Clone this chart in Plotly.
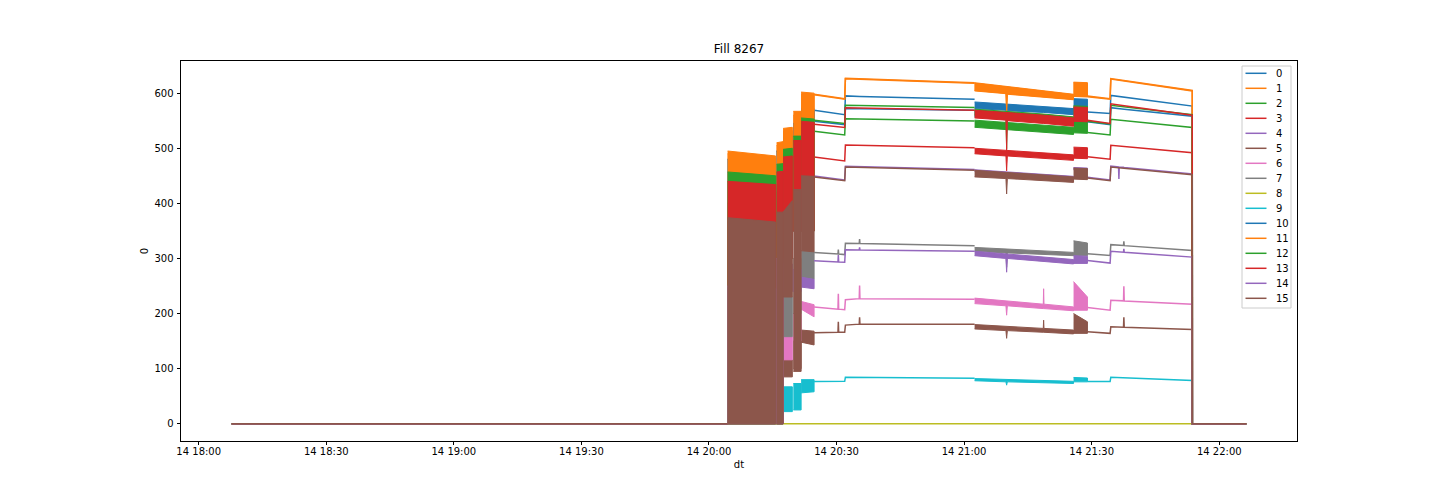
import plotly.graph_objects as go

DAY = "2022-10-14 "
SERIES = [str(i) for i in range(16)]
COLORS = ["#1f77b4", "#ff7f0e", "#2ca02c", "#d62728", "#9467bd", "#8c564b",
          "#e377c2", "#7f7f7f", "#bcbd22", "#17becf",
          "#1f77b4", "#ff7f0e", "#2ca02c", "#d62728", "#9467bd", "#8c564b"]

# ---- steady (thin) parts of every series -------------------------------
T_LINE = ["18:07:46", "20:04:23", "20:10:00", "20:24:43", "20:30:20", "20:30:25", "20:30:30",
          "20:31:55", "20:32:05", "20:35:20", "20:35:25", "20:35:30", "21:02:28", "21:15:00",
          "21:29:00", "21:34:20", "21:34:30", "21:36:19", "21:36:24", "21:36:29", "21:37:29",
          "21:37:34", "21:37:39", "21:53:39", "21:53:40", "22:06:21"]

Y0 = [0, 0, None, 569, 563, 563, 563, 561, 595, 594, 594, 594, 589, None,
      566, 563, 595.8, 594, 593.9, 593.8, 592.8, 592.7, 592.6, 576.5, 0, 0]
Y1 = [0, 0, None, 597, 591, 591, 591, 589, 626, 625, 625, 625, 618, None,
      593.6, 589, 625.6, 623.5, 623.4, 623.3, 622.2, 622.1, 622, 604, 0, 0]
Y2 = [0, 0, None, 531, 525.5, 525.5, 525.5, 524, 553.6, 553, 553, 553, 549.5, None,
      528.5, 524, 552.5, 551, 550.9, 550.8, 550.2, 550.1, 550, 537.6, 0, 0]
Y3 = [0, 0, None, 484, 478.5, 478.5, 478.5, 477, 506, 505.5, 505.5, 505.5, 501, None,
      484.4, 480, 505.5, 504.2, 504.1, 504, 503.4, 503.3, 503.2, 492, 0, 0]
Y4 = [0, 0, None, 449.5, 444, 444, 444, 442.5, 467.5, 467, 467, 467, 461.5, None,
      447.5, 442.5, 467.5, 466.1, 444, 465.9, 465.3, 465.2, 465.1, 453.5, 0, 0]
Y5 = [0, 0, None, 165, 166, 185, 166, 166, 179, 180.7, 193, 180.7, 180.7, None,
      166.8, 164, 176, 175.6, 175.5, 175.5, 175.2, 193, 175.1, 171, 0, 0]
Y6 = [0, 0, None, 212, 208, 236, 208, 207, 225, 227, 251, 227, 226, None,
      211, 206, 224, 223.5, 223.4, 223.3, 223, 249.4, 222.9, 217, 0, 0]
Y7 = [0, 0, None, 311, 308, 316, 308, 307, 327.7, 327, 335, 327, 323, None,
      308.5, 305.5, 325, 324.2, 324, 323.9, 323.4, 331, 323.2, 314.5, 0, 0]
Y8 = [0, 0, 0, 0, 0, 0, 0, 0, 0, 0, 0, 0, 0, 0,
      0, 0, 0, 0, 0, 0, 0, 0, 0, 0, 0, 0]
Y9 = [0, 0, None, 76.5, 77, 77, 77, 77, 84.4, 84.2, 84.2, 84.2, 82.6, None,
      76.5, 76.5, 84.4, 83.8, 83.8, 83.8, 83.4, 83.4, 83.4, 78.3, 0, 0]
Y10 = [0, 0, None, 549, 545, 545, 545, 543, 572, 571.5, 571.5, 571.5, 569, None,
       548, 543, 573.6, 572, 571.9, 571.8, 571, 570.9, 570.8, 558, 0, 0]
Y11 = [0, 0, None, 598, 592, 592, 592, 590, 627, 626, 626, 626, 619, None,
       594.6, 590, 626.6, 624.5, 624.4, 624.3, 623.2, 623.1, 623, 605, 0, 0]
Y12 = [0, 0, None, 551, 546, 546, 546, 545, 578, 577.5, 577.5, 577.5, 574, None,
       549, 544, 578, 576.3, 576.2, 576.1, 575.3, 575.2, 575.1, 561, 0, 0]
Y13 = [0, 0, None, 543.5, 539, 539, 539, 537.6, 573.6, 573, 573, 573, 569, None,
       551, 545, 580.7, 578.6, 578.5, 578.4, 577.4, 577.3, 577.2, 560, 0, 0]
Y14 = [0, 0, None, 296, 293.5, 306, 293.5, 293, 315.7, 315.5, 320, 315.5, 313, None,
       296.4, 291.6, 313, 312.1, 312, 311.9, 311.4, 317.5, 311.2, 302.4, 0, 0]
Y15 = [0, 0, None, 448, 442.5, 442.5, 442.5, 441, 466, 465.4, 465.4, 465.4, 460, None,
       446, 441, 466, 464.6, 464.5, 464.4, 463.8, 463.7, 463.6, 452, 0, 0]

# ---- fast-oscillating parts: envelope (low / high) per segment ---------
T_BAND = ["20:04:23", "20:15:40",            # A
          "20:15:54", "20:17:25",            # B1
          "20:17:25", "20:19:36",            # B2
          "20:19:50", "20:21:40",            # C1
          "20:21:40", "20:24:43",            # C2
          "21:02:28", "21:09:50", "21:10:00", "21:10:10",
          "21:18:37", "21:18:42", "21:18:47", "21:25:44",   # D
          "21:25:44", "21:29:00"]            # E
SEG_SIZES = [2, 2, 2, 2, 2, 8, 2]

HI0 = [480, 470, 495, 497, 520, 522, 545, 545, 575, 572, 584, 580, 580, 580, 576, 576, 576, 572, 590, 589]
LO0 = [0, 0, 0, 0, 300, 300, 350, 350, 350, 350, 572, 569, 555, 568, 565, 565, 565, 561, 570, 569]
HI1 = [490, 482, 505, 507, 530, 532, 560, 560, 598, 596, 618, 611, 611, 611, 603, 603, 603, 597, 619, 618]
LO1 = [0, 0, 0, 0, 300, 300, 350, 350, 350, 350, 604, 599, 567, 598, 593, 593, 593, 588, 594, 593]
HI2 = [440, 432, 450, 450, 470, 472, 500, 500, 535, 532, 551, 547, 547, 547, 542, 542, 542, 538, 550, 549]
LO2 = [0, 0, 0, 0, 300, 300, 350, 350, 350, 350, 538, 534, 534, 534, 529, 529, 529, 525, 528, 527]
HI3 = [400, 392, 420, 420, 440, 442, 470, 470, 490, 487, 500, 496, 496, 496, 492, 492, 492, 488, 502, 501]
LO3 = [0, 0, 0, 0, 300, 300, 350, 350, 350, 350, 490, 486, 459, 486, 482, 482, 482, 478, 482, 481]
HI4 = [370, 362, 380, 380, 390, 400, 420, 420, 452, 450, 461, 457, 457, 457, 453, 453, 453, 449, 465, 464]
LO4 = [0, 0, 0, 0, 300, 300, 350, 350, 350, 350, 458, 454, 454, 454, 450, 450, 450, 446, 461, 460]
HI5 = [120, 118, 110, 110, 116, 116, 150, 150, 170, 168, 180, 177, 177, 177, 173, 188, 173, 170, 200, 185]
LO5 = [0, 0, 0, 0, 85, 85, 100, 100, 148, 143, 172, 169, 155, 169, 166, 166, 166, 163, 164, 164]
HI6 = [150, 148, 150, 150, 158, 158, 200, 200, 222, 216, 228, 223, 223, 223, 217, 245, 217, 212, 258, 230]
LO6 = [0, 0, 0, 0, 116, 116, 150, 150, 208, 194, 218, 214, 197, 214, 209, 209, 209, 205, 206, 206]
HI7 = [220, 215, 220, 220, 230, 230, 300, 300, 314, 312, 320, 317, 317, 317, 314, 314, 314, 311, 332, 328]
LO7 = [0, 0, 0, 0, 158, 158, 200, 200, 266, 262, 313, 310, 284, 310, 307, 307, 307, 305, 305, 305]
HI8 = None
LO8 = None
HI9 = [60, 58, 60, 60, 67, 67, 73, 73, 80, 80, 82, 80, 80, 80, 78, 78, 78, 77, 84, 83]
LO9 = [0, 0, 0, 0, 22, 22, 25, 25, 56, 58, 78, 76, 70, 76, 74, 74, 74, 73, 76, 76]
HI10 = [480, 470, 495, 497, 520, 522, 545, 545, 572, 569, 567, 563, 563, 563, 558, 558, 558, 553, 573, 572]
LO10 = [0, 0, 0, 0, 300, 300, 350, 350, 350, 350, 557, 553, 553, 553, 547, 547, 547, 542, 551, 550]
HI11 = [495, 486, 510, 512, 536, 538, 567, 567, 602, 600, 619, 612, 612, 612, 604, 604, 604, 598, 620, 619]
LO11 = [0, 0, 0, 0, 300, 300, 350, 350, 350, 350, 605, 600, 568, 599, 594, 594, 594, 589, 595, 594]
HI12 = [457, 450, 471, 472, 498, 500, 522, 522, 555, 553, 571, 567, 567, 567, 562, 562, 562, 557, 577, 576]
LO12 = [0, 0, 0, 0, 300, 300, 350, 350, 350, 350, 560, 556, 499, 555, 550, 550, 550, 545, 552, 551]
HI13 = [440, 434, 457, 458, 484, 486, 514, 514, 549, 547, 569, 565, 565, 565, 560, 560, 560, 555, 575, 574]
LO13 = [0, 0, 0, 0, 300, 300, 350, 350, 350, 350, 555, 551, 495, 550, 545, 545, 545, 540, 549, 548]
HI14 = [250, 245, 300, 300, 290, 290, 280, 280, 266, 262, 313, 308, 308, 308, 302, 302, 302, 298, 305, 304]
LO14 = [0, 0, 0, 0, 240, 240, 240, 240, 248, 245, 305, 300, 275, 300, 295, 295, 295, 290, 291, 291]
HI15 = [374, 366, 384, 384, 384, 405, 425, 425, 450, 449, 460, 456, 456, 456, 452, 452, 452, 448, 464, 463]
LO15 = [0, 0, 0, 0, 230, 230, 95, 95, 314, 312, 448, 445, 417, 445, 441, 441, 441, 438, 444, 443]

LINES = [Y0, Y1, Y2, Y3, Y4, Y5, Y6, Y7, Y8, Y9, Y10, Y11, Y12, Y13, Y14, Y15]
HIS = [HI0, HI1, HI2, HI3, HI4, HI5, HI6, HI7, HI8, HI9, HI10, HI11, HI12, HI13, HI14, HI15]
LOS = [LO0, LO1, LO2, LO3, LO4, LO5, LO6, LO7, LO8, LO9, LO10, LO11, LO12, LO13, LO14, LO15]

FONT = "DejaVu Sans"

# figure geometry (the page body adds an 8 px offset)
FIG_W, FIG_H = 1432, 496
M_L, M_R, M_T, M_B = 173, 143, 53, 63
PW = FIG_W - M_L - M_R
PH = FIG_H - M_T - M_B


def px_x(fx):
    return (fx - M_L) / PW


def px_y(fy):
    return (FIG_H - M_B - fy) / PH


fig = go.Figure()
x_line = [DAY + t for t in T_LINE]
x_band = [DAY + t for t in T_BAND]

for i, name in enumerate(SERIES):
    col = COLORS[i]
    hi, lo = HIS[i], LOS[i]
    if hi is not None:
        start = 0
        for n in SEG_SIZES:
            xs = x_band[start:start + n]
            xp = xs + xs[::-1]
            yp = hi[start:start + n] + lo[start:start + n][::-1]
            fig.add_trace(go.Scatter(x=xp, y=yp, mode="lines", fill="toself",
                                     fillcolor=col, line=dict(color=col, width=1),
                                     showlegend=False, hoverinfo="skip"))
            start += n
    fig.add_trace(go.Scatter(x=x_line, y=LINES[i], mode="lines", name=name,
                             line=dict(color=col, width=1.5), showlegend=False))

# ---- matplotlib-style legend box (upper right) --------------------------
shapes = [dict(type="rect", xref="paper", yref="paper",
               x0=px_x(1234), x1=px_x(1283), y0=px_y(300), y1=px_y(58),
               fillcolor="rgba(255,255,255,0.8)", line=dict(color="#cccccc", width=1),
               layer="above")]
annotations = []
for i, name in enumerate(SERIES):
    fy = 65.3 + 15 * i
    shapes.append(dict(type="line", xref="paper", yref="paper",
                       x0=px_x(1237.5), x1=px_x(1258.5), y0=px_y(fy), y1=px_y(fy),
                       line=dict(color=COLORS[i], width=1.5), layer="above"))
    annotations.append(dict(text=name, xref="paper", yref="paper",
                            x=px_x(1265.5), y=px_y(fy), xanchor="left", yanchor="middle",
                            showarrow=False,
                            font=dict(family=FONT, size=10, color="black")))

axis_common = dict(showline=True, linecolor="black", linewidth=0.8, mirror=True,
                   ticks="outside", ticklen=3.5, tickwidth=0.8, tickcolor="black",
                   showgrid=False, zeroline=False,
                   tickfont=dict(family=FONT, size=10, color="black"))

fig.update_layout(
    width=FIG_W, height=FIG_H, autosize=False,
    paper_bgcolor="white", plot_bgcolor="white",
    margin=dict(l=M_L, r=M_R, t=M_T, b=M_B),
    font=dict(family=FONT, size=10, color="black"),
    title=dict(text="Fill 8267", x=0.5, xref="paper", xanchor="center",
               y=1 - 41 / FIG_H, yref="container", yanchor="middle",
               font=dict(family=FONT, size=12, color="black")),
    xaxis=dict(type="date", range=[DAY + "17:55:50", DAY + "22:18:17"],
               tick0=DAY + "18:00:00", dtick=1800000, tickformat="%d %H:%M",
               ticklabelstandoff=-2,
               title=dict(text="dt", standoff=4, font=dict(family=FONT, size=10)),
               **axis_common),
    yaxis=dict(range=[-31.35, 658.35], tick0=0, dtick=100,
               ticklabelstandoff=1,
               title=dict(text="0", standoff=4, font=dict(family=FONT, size=10)),
               **axis_common),
    shapes=shapes,
    annotations=annotations,
    showlegend=False,
)

fig.write_html("out.html")
